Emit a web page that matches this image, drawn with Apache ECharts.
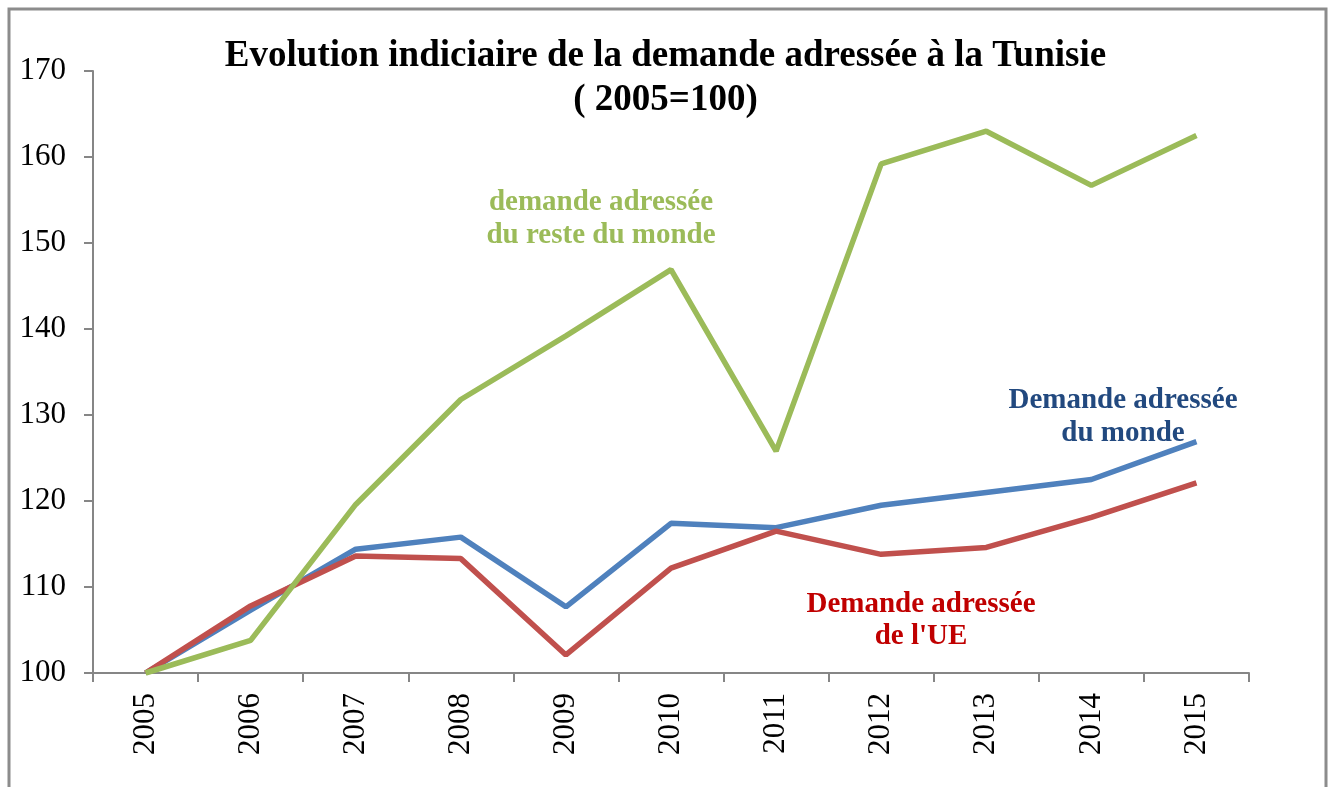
<!DOCTYPE html>
<html>
<head>
<meta charset="utf-8">
<script src="https://cdn.jsdelivr.net/npm/echarts@6/dist/echarts.min.js"></script>
<style>
  html, body { margin: 0; padding: 0; background: #fff; }
  #main { width: 1331px; height: 787px; }
</style>
</head>
<body>
<div id="main"></div>
<script>
// années
var years = ['2005', '2006', '2007', '2008', '2009', '2010', '2011', '2012', '2013', '2014', '2015'];
// demande adressée du monde
var mondeData = [100, 107.3, 114.4, 115.8, 107.7, 117.4, 116.9, 119.5, 121.0, 122.5, 126.9];
// demande adressée de l'UE
var ueData = [100, 107.8, 113.6, 113.3, 102.1, 112.2, 116.5, 113.8, 114.6, 118.1, 122.1];
// demande adressée du reste du monde
var resteData = [100, 103.8, 119.6, 131.8, 139.2, 146.9, 125.8, 159.2, 163.0, 156.7, 162.5];
var yTicks = [100, 110, 120, 130, 140, 150, 160, 170];

var serif = '"Liberation Serif", "Times New Roman", serif';
var axisGray = '#868686';

var chart = echarts.init(document.getElementById('main'));
var option = {
    backgroundColor: '#fff',
    animation: false,
    title: {
        text: 'Evolution indiciaire de la demande adressée à la Tunisie\n( 2005=100)',
        left: 'center',
        top: 29,
        textStyle: {
            fontFamily: serif,
            fontSize: 37,
            fontWeight: 'bold',
            color: '#000',
            lineHeight: 44
        }
    },
    grid: {
        left: 93,
        right: 82,
        top: 71,
        bottom: 114,
        containLabel: false
    },
    xAxis: [{
        type: 'category',
        boundaryGap: true,
        data: years,
        axisLine: { lineStyle: { color: axisGray, width: 2 } },
        axisTick: { show: true, length: 9, lineStyle: { color: axisGray, width: 2 } },
        axisLabel: {
            rotate: 90,
            margin: 20,
            fontFamily: serif,
            fontSize: 31,
            color: '#000'
        },
        splitLine: { show: false }
    }],
    yAxis: [{
        type: 'value',
        min: yTicks[0],
        max: yTicks[yTicks.length - 1],
        interval: 10,
        axisLine: { show: true, lineStyle: { color: axisGray, width: 2 } },
        axisTick: { show: true, length: 9, lineStyle: { color: axisGray, width: 2 } },
        axisLabel: {
            margin: 27,
            fontFamily: serif,
            fontSize: 31,
            color: '#000'
        },
        splitLine: { show: false }
    }],
    series: [
        {
            name: 'Demande adressée du monde',
            type: 'line',
            data: mondeData,
            symbol: 'none',
            lineStyle: { color: '#4F81BD', width: 5.5 }
        },
        {
            name: "Demande adressée de l'UE",
            type: 'line',
            data: ueData,
            symbol: 'none',
            lineStyle: { color: '#C0504D', width: 5.5 }
        },
        {
            name: 'demande adressée du reste du monde',
            type: 'line',
            data: resteData,
            symbol: 'none',
            lineStyle: { color: '#9BBB59', width: 5.5 }
        }
    ],
    graphic: [
        // cadre
        {
            type: 'rect',
            shape: { x: 9, y: 9, width: 1317, height: 800 },
            style: { fill: 'none', stroke: '#8c8c8c', lineWidth: 3 },
            silent: true
        },
        {
            type: 'text',
            x: 601, y: 186,
            style: {
                text: 'demande adressée\ndu reste du monde',
                fill: '#9BBB59',
                font: 'bold 29px ' + serif,
                lineHeight: 33,
                align: 'center',
                verticalAlign: 'top'
            }
        },
        {
            type: 'text',
            x: 1123, y: 384,
            style: {
                text: 'Demande adressée\ndu monde',
                fill: '#22497F',
                font: 'bold 29px ' + serif,
                lineHeight: 33,
                align: 'center',
                verticalAlign: 'top'
            }
        },
        {
            type: 'text',
            x: 921, y: 589,
            style: {
                text: "Demande adressée\nde l'UE",
                fill: '#C00000',
                font: 'bold 29px ' + serif,
                lineHeight: 32,
                align: 'center',
                verticalAlign: 'top'
            }
        }
    ]
};
chart.setOption(option);
</script>
</body>
</html>
